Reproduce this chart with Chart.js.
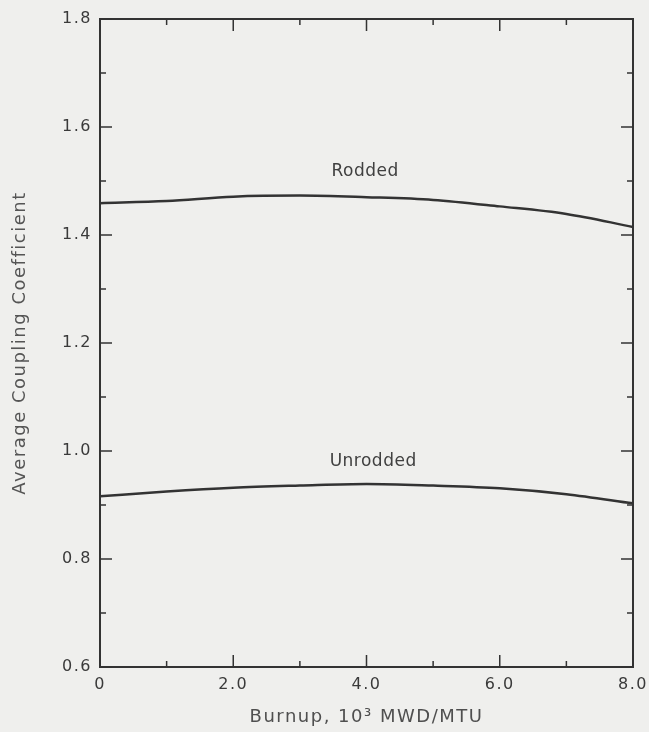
<!DOCTYPE html>
<html>
<head>
<meta charset="utf-8">
<script src="https://cdn.jsdelivr.net/npm/chart.js@4.4.1/dist/chart.umd.min.js"></script>
<style>
  html, body { margin: 0; padding: 0; background: #efefed; }
  #wrap { width: 649px; height: 732px; }
</style>
</head>
<body>
<div id="wrap"><canvas id="coupling" width="649" height="732"></canvas></div>
<script>
// Average coupling coefficient vs burnup
const burnup = [0, 1, 2, 3, 4, 5, 6, 7, 8];
const rodded = [1.459, 1.463, 1.471, 1.473, 1.470, 1.465, 1.453, 1.439, 1.415];
const unrodded = [0.916, 0.925, 0.932, 0.936, 0.939, 0.936, 0.931, 0.920, 0.903];

const xTicks = [0, 2, 4, 6, 8];
const yTicks = [0.6, 0.8, 1.0, 1.2, 1.4, 1.6, 1.8];

// curve labels, in data coordinates
const curveLabels = [
  { text: "Rodded", x: 3.98, y: 1.517 },
  { text: "Unrodded", x: 4.1, y: 0.98 },
];

const ink = "#333333";
const font = "'DejaVu Sans', 'Liberation Sans', sans-serif";

const frameAndTicks = {
  id: "frameAndTicks",
  beforeDraw(chart) {
    const c = chart.ctx;
    c.fillStyle = "#efefed";
    c.fillRect(0, 0, chart.width, chart.height);
  },
  afterDatasetsDraw(chart) {
    const c = chart.ctx;
    const a = chart.chartArea;
    const xs = chart.scales.x;
    const ys = chart.scales.y;
    c.save();
    c.strokeStyle = ink;
    c.lineWidth = 2;
    c.strokeRect(a.left, a.top, a.right - a.left, a.bottom - a.top);

    c.lineWidth = 1.5;
    // y ticks, minor every 0.1, major every 0.2, left and right sides
    for (let i = 6; i <= 18; i++) {
      const py = ys.getPixelForValue(i / 10);
      const len = i % 2 === 0 ? 12 : 6;
      c.beginPath();
      c.moveTo(a.left, py);
      c.lineTo(a.left + len, py);
      c.moveTo(a.right, py);
      c.lineTo(a.right - len, py);
      c.stroke();
    }
    // x ticks, minor every 1, major every 2, bottom and top
    for (let i = 0; i <= 8; i++) {
      const px = xs.getPixelForValue(i);
      const len = i % 2 === 0 ? 12 : 6;
      c.beginPath();
      c.moveTo(px, a.bottom);
      c.lineTo(px, a.bottom - len);
      c.moveTo(px, a.top);
      c.lineTo(px, a.top + len);
      c.stroke();
    }

    // curve labels
    c.fillStyle = "#404040";
    c.font = "17px " + font;
    c.letterSpacing = "0.5px";
    c.textAlign = "center";
    c.textBaseline = "middle";
    curveLabels.forEach((l) => {
      c.fillText(l.text, xs.getPixelForValue(l.x), ys.getPixelForValue(l.y));
    });
    c.restore();
  },
};

// wider tracking for the axis text, like the typeset original
const tracking = {
  id: "tracking",
  beforeDraw(chart) { chart.ctx.letterSpacing = "1.5px"; },
  afterDraw(chart) { chart.ctx.letterSpacing = "0px"; },
};

const toPoints = (ys) => burnup.map((b, i) => ({ x: b, y: ys[i] }));

new Chart(document.getElementById("coupling"), {
  type: "scatter",
  data: {
    datasets: [
      {
        label: "Rodded",
        data: toPoints(rodded),
        showLine: true,
        borderColor: ink,
        borderWidth: 2.5,
        pointRadius: 0,
        tension: 0.4,
        cubicInterpolationMode: "monotone",
      },
      {
        label: "Unrodded",
        data: toPoints(unrodded),
        showLine: true,
        borderColor: ink,
        borderWidth: 2.5,
        pointRadius: 0,
        tension: 0.4,
        cubicInterpolationMode: "monotone",
      },
    ],
  },
  options: {
    responsive: false,
    animation: false,
    layout: { padding: { top: 19, right: 16, left: 6, bottom: 0 } },
    plugins: {
      legend: { display: false },
      tooltip: { enabled: false },
    },
    scales: {
      x: {
        type: "linear",
        min: 0,
        max: 8,
        afterFit: (s) => {
          s.height = 65;
          s.paddingLeft = 0;
          s.paddingRight = 0;
        },
        afterBuildTicks: (s) => { s.ticks = xTicks.map((v) => ({ value: v })); },
        grid: { display: false, drawTicks: false },
        border: { display: false },
        ticks: {
          padding: 8,
          color: "#3a3a3a",
          font: { family: font, size: 16 },
          maxRotation: 0,
          callback: (v) => (v === 0 ? "0" : v.toFixed(1)),
        },
        title: {
          display: true,
          text: "Burnup, 10³ MWD/MTU",
          color: "#4f4f4f",
          font: { family: font, size: 18 },
          padding: { top: 3 },
        },
      },
      y: {
        type: "linear",
        min: 0.6,
        max: 1.8,
        afterFit: (s) => {
          s.width = 94;
          s.paddingTop = 0;
          s.paddingBottom = 0;
        },
        afterBuildTicks: (s) => { s.ticks = yTicks.map((v) => ({ value: v })); },
        grid: { display: false, drawTicks: false },
        border: { display: false },
        ticks: {
          padding: 8,
          color: "#3a3a3a",
          font: { family: font, size: 16 },
          callback: (v) => v.toFixed(1),
        },
        title: {
          display: true,
          text: "Average Coupling Coefficient",
          color: "#555555",
          font: { family: font, size: 18 },
          padding: { bottom: 4 },
        },
      },
    },
  },
  plugins: [tracking, frameAndTicks],
});
</script>
</body>
</html>
